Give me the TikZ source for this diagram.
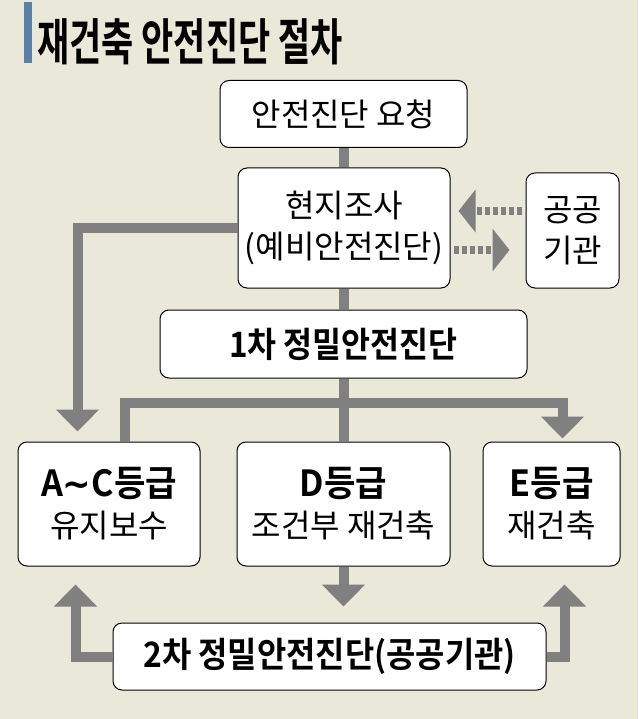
\documentclass[tikz,border=0pt]{standalone}
\usepackage{fontspec}
\setmainfont{Noto Sans CJK KR}[BoldFont={Noto Sans CJK KR Bold}]
\newfontfamily\dvfont{DejaVu Sans}
\usetikzlibrary{arrows.meta,calc}
\definecolor{bg}{HTML}{EAE9D9}
\definecolor{bar}{HTML}{5B7FA6}
\definecolor{conn}{HTML}{808080}
\begin{document}
\begin{tikzpicture}[x=1pt,y=-1pt,
  box/.style={draw=black, line width=1pt, fill=white, rounded corners=9pt, inner sep=0pt, align=center, font=\fontsize{32}{41}\selectfont},
  link/.style={draw=conn, line width=10pt},
  arr/.style={draw=conn, line width=10pt, -{Triangle[width=42pt,length=22pt]}},
  dotarr/.style={draw=conn, line width=8pt, dash pattern=on 5pt off 3pt, -{Triangle[width=42pt,length=17pt]}}]
\fill[bg] (0,0) rectangle (638,719);
\useasboundingbox (0,0) rectangle (638,719);
\fill[bar] (24,2) rectangle (32,63);
\node[anchor=west, inner sep=0pt, font=\fontsize{50}{50}\selectfont\bfseries] (title) at (37,42) {\scalebox{0.7}[1]{재건축 안전진단 절차}};
% boxes
\node[box, minimum width=247pt, minimum height=67pt] (req) at (343.5,114) {안전진단 요청};
\node[box, minimum width=212pt, minimum height=120pt] (hyun) at (344,228) {현지조사\\(예비안전진단)};
\node[box, minimum width=93pt, minimum height=115pt] (pub) at (572.5,230.5) {공공\\기관};
\node[box, minimum width=367pt, minimum height=68pt] (first) at (343.5,344) {\scalebox{0.9}[1]{\bfseries\fontsize{35}{40}\selectfont 1차 정밀안전진단}};
\node[box, minimum width=182pt, minimum height=124pt] (ac) at (109,504) {\scalebox{0.95}[1]{\bfseries\fontsize{36}{40}\selectfont A{\dvfont\bfseries ∼}C등급}\\유지보수};
\node[box, minimum width=213pt, minimum height=124pt] (d) at (343.5,504) {\scalebox{0.95}[1]{\bfseries\fontsize{36}{40}\selectfont D등급}\\조건부 재건축};
\node[box, minimum width=137pt, minimum height=124pt] (e) at (551.5,504) {\scalebox{0.95}[1]{\bfseries\fontsize{36}{40}\selectfont E등급}\\재건축};
\node[box, minimum width=433pt, minimum height=67pt] (two) at (329.5,656.5) {\scalebox{0.91}[1]{\bfseries\fontsize{35}{40}\selectfont 2차 정밀안전진단(공공기관)}};
% connectors
\draw[link] (req.south) -- (req.south |- hyun.north);
\draw[link] (hyun.south) -- (hyun.south |- first.north);
\draw[arr] (hyun.west) -| ($(ac.north west)+(60,-10)$);
\draw[link] (first.south) -- (first.south |- d.north);
\draw[arr] ($(ac.north west)+(107,0)$) |- ($(first.south)+(0,24)$) -| ($(e.north west)+(80,-3)$);
\draw[arr] (d.south) -- ($(d.south)+(0,40)$);
\draw[arr] (two.west) -| ($(ac.south west)+(58,18)$);
\draw[arr] (two.east) -| ($(e.south west)+(82,18)$);
\draw[dotarr] ($(pub.west)+(-4,-19.5)$) -- ($(hyun.east)+(8,-17)$);
\draw[dotarr] ($(hyun.east)+(3,22)$) -- ($(pub.west)+(-16,19.5)$);
\end{tikzpicture}
\end{document}
